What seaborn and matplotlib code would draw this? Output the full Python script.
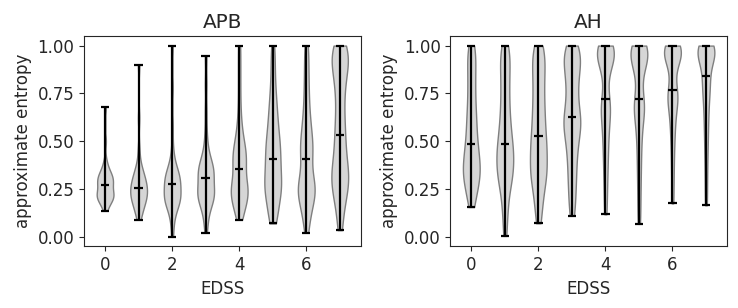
import matplotlib
matplotlib.use("Agg")
import matplotlib.pyplot as plt
import seaborn as sns
import pandas as pd

# approximate entropy samples per EDSS level
edss = [0, 1, 2, 3, 4, 5, 6, 7]

apb_0 = [0.136, 0.16, 0.175, 0.185, 0.195, 0.20, 0.205, 0.21, 0.215, 0.22, 0.225, 0.23, 0.24, 0.25, 0.26, 0.27,
         0.275, 0.28, 0.29, 0.295, 0.30, 0.31, 0.315, 0.32, 0.33, 0.34, 0.35, 0.37, 0.40, 0.50, 0.68]
apb_1 = [0.09, 0.115, 0.135, 0.15, 0.165, 0.175, 0.185, 0.195, 0.20, 0.21, 0.215, 0.22, 0.23, 0.235, 0.245, 0.256,
         0.26, 0.265, 0.27, 0.28, 0.29, 0.30, 0.31, 0.32, 0.33, 0.345, 0.36, 0.39, 0.46, 0.62, 0.90]
apb_2 = [0.0, 0.07, 0.11, 0.14, 0.16, 0.175, 0.185, 0.19, 0.195, 0.20, 0.205, 0.21, 0.215, 0.22, 0.23, 0.25, 0.277,
         0.28, 0.285, 0.29, 0.295, 0.30, 0.31, 0.32, 0.33, 0.34, 0.35, 0.37, 0.40, 0.46, 0.58, 0.78, 1.0]
apb_3 = [0.021, 0.08, 0.12, 0.15, 0.17, 0.185, 0.195, 0.205, 0.215, 0.22, 0.225, 0.23, 0.24, 0.25, 0.265, 0.285, 0.307,
         0.315, 0.32, 0.33, 0.34, 0.35, 0.36, 0.37, 0.38, 0.39, 0.41, 0.44, 0.48, 0.55, 0.66, 0.80, 0.945]
apb_4 = [0.09, 0.12, 0.145, 0.165, 0.18, 0.195, 0.21, 0.22, 0.23, 0.24, 0.25, 0.26, 0.27, 0.285, 0.30, 0.33, 0.357,
         0.37, 0.385, 0.40, 0.415, 0.43, 0.445, 0.46, 0.48, 0.50, 0.53, 0.57, 0.62, 0.70, 0.80, 0.90, 1.0]
apb_5 = [0.07, 0.10, 0.13, 0.16, 0.19, 0.21, 0.23, 0.245, 0.26, 0.275, 0.29, 0.31, 0.33, 0.35, 0.37, 0.39, 0.408,
         0.43, 0.45, 0.47, 0.49, 0.51, 0.53, 0.56, 0.59, 0.62, 0.65, 0.69, 0.73, 0.78, 0.85, 0.92, 1.0]
apb_6 = [0.022, 0.08, 0.12, 0.15, 0.175, 0.195, 0.21, 0.225, 0.24, 0.25, 0.26, 0.27, 0.285, 0.30, 0.33, 0.36, 0.406,
         0.42, 0.44, 0.46, 0.48, 0.50, 0.52, 0.55, 0.58, 0.61, 0.65, 0.70, 0.75, 0.81, 0.87, 0.94, 1.0]
apb_7 = [0.035, 0.11, 0.17, 0.21, 0.24, 0.26, 0.28, 0.30, 0.32, 0.34, 0.36, 0.39, 0.42, 0.46, 0.50, 0.533,
         0.57, 0.61, 0.66, 0.71, 0.76, 0.80, 0.84, 0.87, 0.90, 0.92, 0.94, 0.96, 0.97, 0.985, 1.0]

ah_0 = [0.156, 0.20, 0.23, 0.26, 0.28, 0.30, 0.32, 0.33, 0.35, 0.36, 0.38, 0.40, 0.42, 0.44, 0.46, 0.484,
        0.51, 0.54, 0.57, 0.60, 0.63, 0.66, 0.70, 0.74, 0.78, 0.82, 0.86, 0.90, 0.94, 0.97, 1.0]
ah_1 = [0.005, 0.10, 0.16, 0.22, 0.26, 0.29, 0.31, 0.33, 0.35, 0.37, 0.39, 0.41, 0.43, 0.45, 0.47, 0.487,
        0.51, 0.54, 0.57, 0.60, 0.63, 0.67, 0.71, 0.75, 0.79, 0.83, 0.87, 0.91, 0.94, 0.97, 1.0]
ah_2 = [0.071, 0.14, 0.19, 0.23, 0.27, 0.30, 0.32, 0.34, 0.36, 0.38, 0.41, 0.44, 0.46, 0.48, 0.50, 0.529,
        0.56, 0.59, 0.62, 0.65, 0.68, 0.72, 0.75, 0.79, 0.82, 0.86, 0.89, 0.92, 0.95, 0.98, 1.0]
ah_3 = [0.111, 0.17, 0.22, 0.27, 0.31, 0.35, 0.39, 0.43, 0.46, 0.49, 0.52, 0.545, 0.565, 0.585, 0.60, 0.615, 0.628,
        0.65, 0.68, 0.71, 0.74, 0.77, 0.80, 0.83, 0.86, 0.88, 0.90, 0.92, 0.94, 0.96, 0.975, 0.99, 1.0]
ah_4 = [0.118, 0.20, 0.27, 0.33, 0.38, 0.43, 0.47, 0.51, 0.55, 0.58, 0.61, 0.64, 0.66, 0.68, 0.70, 0.71, 0.721,
        0.80, 0.86, 0.89, 0.91, 0.93, 0.94, 0.95, 0.96, 0.965, 0.97, 0.975, 0.98, 0.985, 0.99, 0.995, 1.0]
ah_5 = [0.068, 0.15, 0.23, 0.30, 0.36, 0.42, 0.47, 0.52, 0.56, 0.60, 0.63, 0.655, 0.675, 0.69, 0.70, 0.71, 0.72,
        0.79, 0.85, 0.88, 0.90, 0.92, 0.935, 0.945, 0.955, 0.962, 0.97, 0.975, 0.98, 0.985, 0.99, 0.995, 1.0]
ah_6 = [0.175, 0.27, 0.35, 0.42, 0.48, 0.53, 0.57, 0.61, 0.64, 0.67, 0.695, 0.715, 0.73, 0.745, 0.755, 0.762, 0.768,
        0.84, 0.88, 0.91, 0.93, 0.94, 0.95, 0.96, 0.965, 0.97, 0.975, 0.98, 0.985, 0.99, 0.993, 0.996, 1.0]
ah_7 = [0.165, 0.25, 0.33, 0.40, 0.46, 0.51, 0.56, 0.60, 0.64, 0.68, 0.71, 0.74, 0.77, 0.79, 0.81, 0.825, 0.839,
        0.88, 0.92, 0.94, 0.95, 0.955, 0.96, 0.965, 0.97, 0.973, 0.976, 0.98, 0.984, 0.988, 0.992, 0.996, 1.0]

apb = [apb_0, apb_1, apb_2, apb_3, apb_4, apb_5, apb_6, apb_7]
ah = [ah_0, ah_1, ah_2, ah_3, ah_4, ah_5, ah_6, ah_7]


def to_frame(groups):
    rows = []
    for e, vals in zip(edss, groups):
        for v in vals:
            rows.append((e, v))
    return pd.DataFrame(rows, columns=["EDSS", "apen"])


def plotViolins(ax, groups, ttl):
    df = to_frame(groups)
    sns.violinplot(data=df, x="EDSS", y="apen", native_scale=True, cut=0, inner=None,
                   density_norm="width", width=0.5, bw_adjust=0.55,
                   color="#d6d6d6", linecolor="#7f7f7f", linewidth=1, saturation=1, ax=ax)
    # min / max / median bars like matplotlib's violinplot
    st = df.groupby("EDSS")["apen"].agg(["min", "max", "median"]).reset_index()
    ax.vlines(st["EDSS"], st["min"], st["max"], color="black", lw=1.6)
    for col in ["min", "max", "median"]:
        ax.hlines(st[col], st["EDSS"] - 0.125, st["EDSS"] + 0.125, color="black", lw=1.6)
    ax.set_xlim(-0.625, 7.625)
    ax.set_ylim(-0.05, 1.05)
    ax.set_xticks([0, 2, 4, 6])
    ax.set_yticks([0, 0.25, 0.5, 0.75, 1.0])
    ax.set_yticklabels(["0.00", "0.25", "0.50", "0.75", "1.00"])
    ax.set_xlabel("EDSS")
    ax.set_ylabel("approximate entropy")
    ax.set_title(ttl)


sns.set_style("ticks")
plt.rcParams["font.family"] = ["DejaVu Sans"]
plt.rcParams["font.size"] = 12

fig, axes = plt.subplots(1, 2, figsize=(7.38, 3.08), dpi=100)
plotViolins(axes[0], apb, "APB")
plotViolins(axes[1], ah, "AH")
fig.subplots_adjust(left=0.114, right=0.985, bottom=0.2, top=0.883, wspace=0.324)
plt.savefig("out.png")
plt.close()
